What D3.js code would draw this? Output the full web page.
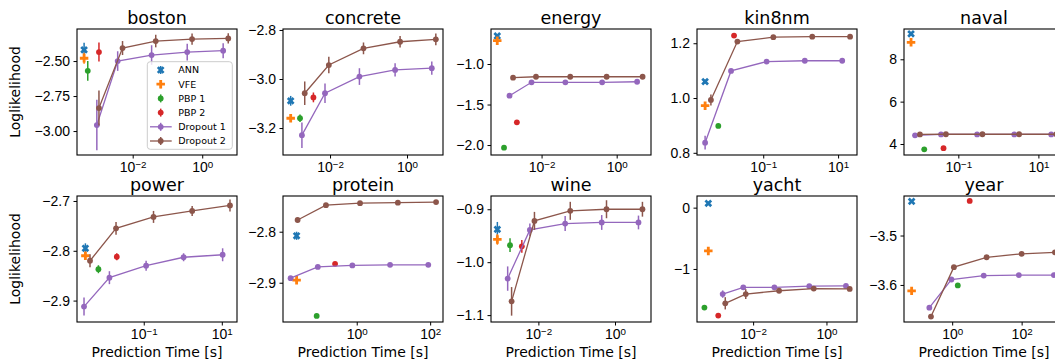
<!DOCTYPE html>
<html>
<head>
<meta charset="utf-8">
<script src="https://cdn.jsdelivr.net/npm/d3@7"></script>
<style>
  body { margin: 0; background: #fff; }
  svg { display: block; font-family: "DejaVu Sans", sans-serif; }
</style>
</head>
<body>
<svg id="chart" width="1055" height="360"></svg>
<script>
// datasets, in panel order (row by row)
const datasets = ["boston", "concrete", "energy", "kin8nm", "naval",
                  "power", "protein", "wine", "yacht", "year"];

// single-point methods: prediction time [s], loglikelihood, error
const annTime = [4.0e-4, 9.5e-4, 6.6e-4, 2.8e-3, 6.6e-3, 3.2e-3, 0.023, 8.5e-4, 6.0e-4, 0.068];
const annLL   = [-2.42, -3.089, -0.654, 1.06, 9.2, -2.795, -2.808, -0.938, 0.07, -3.431];
const annErr  = [0.05, 0.02, 0.02, 0.008, 0.1, 0.01, 0.008, 0.014, 0.03, 0.002];

const vfeTime = [4.0e-4, 9.5e-4, 6.6e-4, 2.8e-3, 6.6e-3, 3.2e-3, 0.023, 8.5e-4, 6.0e-4, 0.068];
const vfeLL   = [-2.48, -3.16, -0.712, 0.972, 8.8, -2.81, -2.895, -0.957, -0.706, -3.612];
const vfeErr  = [0.04, 0.01, 0.02, 0.008, 0.1, 0.005, 0.004, 0.01, 0.03, 0.002];

const pbp1Time = [5.1e-4, 1.66e-3, 1.0e-3, 6.3e-3, 0.0141, 6.9e-3, 0.081, 1.82e-3, 4.7e-4, 1.45];
const pbp1LL   = [-2.57, -3.16, -2.033, 0.898, 3.75, -2.837, -2.965, -0.968, -1.63, -3.601];
const pbp1Err  = [0.07, 0.015, 0.01, 0.005, 0.02, 0.008, 0.002, 0.013, 0.02, 0.002];

const pbp2Time = [1.07e-3, 3.7e-3, 2.2e-3, 0.0166, 0.0427, 0.0204, 0.257, 3.7e-3, 1.12e-3, 3.2];
const pbp2LL   = [-2.436, -3.075, -1.72, 1.228, 3.8, -2.812, -2.863, -0.970, -1.76, -3.43];
const pbp2Err  = [0.068, 0.02, 0.01, 0.005, 0.02, 0.007, 0.002, 0.012, 0.02, 0.002];

// dropout curves, 5 points per dataset
const drop1Time = [
  [9.3e-4, 3.7e-3, 0.035, 0.37, 4.0],
  [1.86e-3, 7.4e-3, 0.058, 0.49, 4.4],
  [1.4e-3, 5.4e-3, 0.043, 0.41, 3.5],
  [2.8e-3, 0.0138, 0.123, 1.29, 12.9],
  [8.3e-3, 0.037, 0.295, 2.5, 20.9],
  [2.95e-3, 0.0132, 0.115, 1.05, 10.5],
  [0.0158, 0.087, 0.76, 8.1, 89],
  [1.58e-3, 6.0e-3, 0.05, 0.45, 4.1],
  [1.48e-3, 5.4e-3, 0.038, 0.34, 3.4],
  [0.22, 0.95, 8.1, 83, 850]
];
const drop1LL = [
  [-2.957, -2.50, -2.457, -2.436, -2.426],
  [-3.229, -3.058, -2.99, -2.963, -2.956],
  [-1.391, -1.226, -1.226, -1.226, -1.219],
  [0.837, 1.099, 1.133, 1.136, 1.136],
  [4.41, 4.45, 4.45, 4.45, 4.45],
  [-2.912, -2.854, -2.83, -2.813, -2.808],
  [-2.891, -2.869, -2.866, -2.865, -2.865],
  [-1.031, -0.939, -0.927, -0.925, -0.925],
  [-1.41, -1.30, -1.30, -1.28, -1.277],
  [-3.646, -3.589, -3.581, -3.580, -3.58]
];
const drop1Err = [
  [0.18, 0.07, 0.07, 0.06, 0.054],
  [0.052, 0.04, 0.034, 0.027, 0.027],
  [0.02, 0.02, 0.02, 0.02, 0.02],
  [0.025, 0.006, 0.005, 0.005, 0.005],
  [0.03, 0.03, 0.03, 0.03, 0.03],
  [0.018, 0.013, 0.01, 0.008, 0.013],
  [0.003, 0.003, 0.003, 0.003, 0.003],
  [0.023, 0.012, 0.014, 0.014, 0.013],
  [0.06, 0.03, 0.03, 0.03, 0.03],
  [0.003, 0.003, 0.003, 0.003, 0.003]
];

const drop2Time = [
  [1.07e-3, 5.1e-3, 0.046, 0.51, 5.6],
  [2.2e-3, 9.3e-3, 0.074, 0.66, 5.6],
  [1.74e-3, 7.1e-3, 0.058, 0.54, 4.9],
  [4.0e-3, 0.0204, 0.186, 2.04, 20.9],
  [0.011, 0.049, 0.4, 3.3, 28],
  [4.2e-3, 0.0195, 0.178, 1.74, 16.2],
  [0.0245, 0.145, 1.23, 13.2, 145],
  [2.0e-3, 7.9e-3, 0.068, 0.6, 5.2],
  [1.74e-3, 6.3e-3, 0.051, 0.45, 4.3],
  [0.245, 1.12, 9.8, 100, 910]
];
const drop2LL = [
  [-2.836, -2.407, -2.357, -2.343, -2.338],
  [-3.058, -2.943, -2.875, -2.848, -2.838],
  [-1.169, -1.157, -1.157, -1.157, -1.157],
  [0.993, 1.206, 1.222, 1.224, 1.224],
  [4.45, 4.46, 4.46, 4.46, 4.46],
  [-2.82, -2.755, -2.732, -2.72, -2.709],
  [-2.777, -2.748, -2.744, -2.743, -2.742],
  [-1.074, -0.922, -0.903, -0.900, -0.900],
  [-1.56, -1.41, -1.355, -1.32, -1.326],
  [-3.664, -3.564, -3.544, -3.537, -3.534]
];
const drop2Err = [
  [0.125, 0.05, 0.045, 0.04, 0.036],
  [0.048, 0.034, 0.024, 0.023, 0.024],
  [0.015, 0.015, 0.015, 0.015, 0.015],
  [0.02, 0.006, 0.004, 0.004, 0.004],
  [0.03, 0.03, 0.03, 0.03, 0.03],
  [0.013, 0.013, 0.012, 0.01, 0.012],
  [0.003, 0.003, 0.003, 0.003, 0.003],
  [0.027, 0.017, 0.017, 0.017, 0.014],
  [0.1, 0.08, 0.03, 0.03, 0.03],
  [0.003, 0.003, 0.003, 0.003, 0.003]
];

// axis limits and ticks
const xMin = [2.5e-4, 6.0e-4, 4.5e-4, 1.7e-3, 4.4e-3, 1.95e-3, 9.8e-3, 5.8e-4, 2.95e-4, 0.041];
const xMax = [10, 8.6, 8.2, 32, 43.6, 24.5, 224, 8.7, 6.8, 1660];
const yMin = [-3.171, -3.31, -2.123, 0.792, 3.48, -2.943, -2.977, -1.113, -1.865, -3.675];
const yMax = [-2.271, -2.796, -0.568, 1.252, 9.43, -2.69, -2.73, -0.875, 0.19, -3.42];
const xTickExp = [[-2, 0], [-2, 0], [-2, 0], [-1, 1], [-1, 1], [-1, 1], [0, 2], [-2, 0], [-2, 0], [0, 2]];
const yTicks = [[-2.5, -2.75, -3.0], [-2.8, -3.0, -3.2], [-1.0, -1.5, -2.0], [1.2, 1.0, 0.8], [8, 6, 4],
                [-2.7, -2.8, -2.9], [-2.8, -2.9], [-0.9, -1.0, -1.1], [0, -1], [-3.5, -3.6]];
const yTickDigits = [2, 1, 1, 1, 0, 1, 1, 1, 0, 1];

const methods = ["ANN", "VFE", "PBP 1", "PBP 2", "Dropout 1", "Dropout 2"];
const colors = ["#1f77b4", "#ff7f0e", "#2ca02c", "#d62728", "#9467bd", "#8c564b"];

// layout
const colLeft = [77, 283, 491, 697, 904];
const rowTop = [29, 196];
const pw = 160, ph = 126;

const svg = d3.select("#chart");
const symX = d3.symbol(d3.symbolCross, 37);
const symP = d3.symbol(d3.symbolCross, 40);

function drawMarker(g, kind, color, cx, cy) {
  if (kind === "X") {
    g.append("path").attr("d", symX())
      .attr("transform", `translate(${cx},${cy}) rotate(45)`).attr("fill", color);
  } else if (kind === "P") {
    g.append("path").attr("d", symP())
      .attr("transform", `translate(${cx},${cy})`).attr("fill", color);
  } else {
    g.append("circle").attr("cx", cx).attr("cy", cy).attr("r", 2.9).attr("fill", color);
  }
}

datasets.forEach((name, i) => {
  const row = Math.floor(i / 5), col = i % 5;
  const left = colLeft[col], top = rowTop[row];
  const g = svg.append("g").attr("transform", `translate(${left},${top})`);

  const x = d3.scaleLog().domain([xMin[i], xMax[i]]).range([0, pw]);
  const y = d3.scaleLinear().domain([yMin[i], yMax[i]]).range([ph, 0]);

  g.append("clipPath").attr("id", "clip" + i)
    .append("rect").attr("width", pw).attr("height", ph);
  const plot = g.append("g").attr("clip-path", `url(#clip${i})`);

  // single points with error bars
  const singles = [
    [annTime, annLL, annErr, "X"],
    [vfeTime, vfeLL, vfeErr, "P"],
    [pbp1Time, pbp1LL, pbp1Err, "o"],
    [pbp2Time, pbp2LL, pbp2Err, "o"]
  ];
  singles.forEach(([t, ll, e, kind], k) => {
    const cx = x(t[i]), cy = y(ll[i]);
    plot.append("line")
      .attr("x1", cx).attr("x2", cx)
      .attr("y1", y(ll[i] - e[i])).attr("y2", y(ll[i] + e[i]))
      .attr("stroke", colors[k]).attr("stroke-width", 1.5);
    drawMarker(plot, kind, colors[k], cx, cy);
  });

  // dropout curves
  [[drop1Time, drop1LL, drop1Err], [drop2Time, drop2LL, drop2Err]].forEach(([t, ll, e], k) => {
    const color = colors[4 + k];
    const pts = t[i].map((tv, j) => ({ t: tv, v: ll[i][j], e: e[i][j] }));
    plot.selectAll(null).data(pts).enter().append("line")
      .attr("x1", d => x(d.t)).attr("x2", d => x(d.t))
      .attr("y1", d => y(d.v - d.e)).attr("y2", d => y(d.v + d.e))
      .attr("stroke", color).attr("stroke-width", 1.5);
    plot.append("path").datum(pts)
      .attr("d", d3.line().x(d => x(d.t)).y(d => y(d.v)))
      .attr("fill", "none").attr("stroke", color).attr("stroke-width", 1.3);
    plot.selectAll(null).data(pts).enter().append("circle")
      .attr("cx", d => x(d.t)).attr("cy", d => y(d.v)).attr("r", 2.9)
      .attr("fill", color);
  });

  // axes
  const xAxis = g.append("g").attr("transform", `translate(0,${ph})`)
    .call(d3.axisBottom(x).tickValues(xTickExp[i].map(p => Math.pow(10, p)))
      .tickSize(3.5).tickPadding(3.6).tickFormat(""));
  xAxis.selectAll(".tick text").each(function(d, j) {
    const p = xTickExp[i][j];
    const txt = d3.select(this).attr("font-size", 14).attr("fill", "#000").text("10");
    txt.append("tspan").attr("dy", "-0.45em").attr("font-size", "0.7em")
      .text(String(p).replace("-", "\u2212"));
  });

  const fmt = d3.format(`.${yTickDigits[i]}f`);
  const yAxis = g.append("g")
    .call(d3.axisLeft(y).tickValues(yTicks[i]).tickSize(3.5).tickPadding(3.5).tickFormat(fmt));
  yAxis.selectAll(".tick text").attr("font-size", 14).attr("fill", "#000");
  [xAxis, yAxis].forEach(a => {
    a.select(".domain").remove();
    a.selectAll(".tick line").attr("stroke", "#000").attr("stroke-width", 1);
  });

  g.append("rect").attr("width", pw).attr("height", ph)
    .attr("fill", "none").attr("stroke", "#000").attr("stroke-width", 1.1);

  // title
  g.append("text").attr("x", pw / 2).attr("y", -5)
    .attr("text-anchor", "middle").attr("font-size", 17.5).text(name);

  if (col === 0) {
    g.append("text")
      .attr("transform", `translate(${15 - left},${ph / 2}) rotate(-90)`)
      .attr("text-anchor", "middle").attr("dominant-baseline", "central")
      .attr("font-size", 14).text("Loglikelihood");
  }
  if (row === 1) {
    g.append("text").attr("x", pw / 2).attr("y", 357 - top)
      .attr("text-anchor", "middle").attr("font-size", 14).text("Prediction Time [s]");
  }

  // legend in the first panel
  if (i === 0) {
    const lg = g.append("g").attr("transform", "translate(70.3,32.7)");
    lg.append("rect").attr("width", 85).attr("height", 87.6).attr("rx", 3)
      .attr("fill", "#fff").attr("fill-opacity", 0.8)
      .attr("stroke", "#ccc").attr("stroke-width", 1);
    const kinds = ["X", "P", "o", "o", "o", "o"];
    methods.forEach((m, k) => {
      const ly = 8.3 + k * 14.2;
      if (k >= 4) {
        lg.append("line").attr("x1", 2.7).attr("x2", 24.4).attr("y1", ly).attr("y2", ly)
          .attr("stroke", colors[k]).attr("stroke-width", 1.3);
      }
      lg.append("line").attr("x1", 13.4).attr("x2", 13.4).attr("y1", ly - 4).attr("y2", ly + 4)
        .attr("stroke", colors[k]).attr("stroke-width", 1.5);
      drawMarker(lg, kinds[k], colors[k], 13.4, ly);
      lg.append("text").attr("x", 31).attr("y", ly).attr("dominant-baseline", "central")
        .attr("font-size", 9.5).text(m);
    });
  }
});
</script>
</body>
</html>
